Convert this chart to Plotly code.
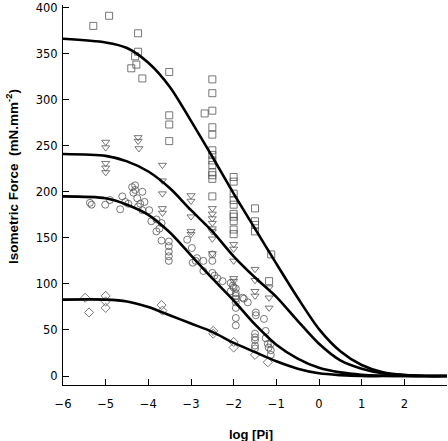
import plotly.graph_objects as go

# ---------------- data ----------------
sq_x = [-5.29, -4.92, -4.24, -4.24, -4.31, -4.28, -4.40, -4.14,
        -3.51, -3.51, -3.51, -3.51,
        -2.5, -2.5, -2.5, -2.68, -2.5, -2.5, -2.5, -2.5, -2.5, -2.5, -2.5, -2.5, -2.5, -2.5,
        -2.0, -2.0, -2.0, -2.0, -2.0, -2.0, -2.0, -2.0, -2.0, -2.0,
        -1.5, -1.5, -1.5, -1.5,
        -1.12, -1.17]
sq_y = [380, 391, 372, 352, 347, 338, 334, 323,
        330, 283, 273, 255,
        322, 307, 288, 285, 270, 262, 245, 240, 234, 229, 221, 218, 214, 195,
        216, 211, 198, 191, 186, 176, 173, 168, 159, 154,
        182, 168, 164, 157,
        132, 103]

tri_x = [-5.0, -5.0, -5.0, -5.0, -5.0,
         -4.24, -4.24, -4.22,
         -3.67, -3.67, -3.67, -3.67, -3.67,
         -3.0, -3.0, -3.0, -3.0, -3.0,
         -2.5, -2.5, -2.5, -2.5, -2.5, -2.5, -2.5, -2.5,
         -2.0, -2.0, -2.0, -2.0, -2.0,
         -1.5, -1.5, -1.5, -1.5,
         -1.17, -1.17, -1.17]
tri_y = [254, 248, 231, 226, 221,
         259, 255, 247,
         229, 212, 198, 182, 177,
         196, 190, 173, 157, 154,
         182, 176, 171, 166, 160, 157, 149, 133,
         143, 138, 125, 106, 103,
         116, 104, 92, 87,
         96, 85, 74]

cir_x = [-5.37, -5.33, -5.01, -4.90, -4.66, -4.61, -4.54, -4.47, -4.38, -4.31, -4.31, -4.35,
         -4.26, -4.14, -4.19, -4.24, -4.09, -3.98, -4.14, -3.93, -3.81, -3.81, -3.74, -3.69, -3.69,
         -3.52, -3.52, -3.52, -3.52, -3.52,
         -3.09, -2.98, -2.96, -2.86, -2.89, -2.71, -2.5, -2.5, -2.71, -2.5, -2.45, -2.38, -2.26,
         -2.07, -2.02, -2.0, -2.07,
         -1.95, -1.95, -1.95, -1.95, -1.95, -1.95, -1.95, -1.95,
         -1.79, -1.76, -1.67, -1.48, -1.48, -1.29,
         -1.5, -1.5, -1.5, -1.5, -1.5,
         -1.25, -1.25, -1.2, -1.13, -1.18, -1.13, -1.13]
cir_y = [188, 186, 186, 191, 181, 195, 189, 187, 205, 207, 202, 199,
         193, 200, 187, 184, 189, 180, 180, 168, 170, 157, 160, 166, 147,
         146, 141, 135, 130, 125,
         148, 139, 123, 128, 125, 125, 132, 125, 114, 112, 109, 106, 103,
         101, 98, 96, 92,
         95, 90, 87, 84, 80, 74, 63, 55,
         85, 84, 80, 69, 66, 62,
         46, 42, 39, 33, 30,
         49, 41, 35, 35, 31, 28, 23]

dia_x = [-5.48, -5.39, -5.0, -5.0, -5.0, -3.69, -3.67, -2.48, -2.48, -2.0, -2.0, -1.5, -1.2]
dia_y = [85, 69, 87, 81, 74, 77, 71, 49, 46, 37, 31, 23, 15]

curve_x = [-6, -5, -4.5, -4, -3.5, -3, -2.5, -2, -1.5, -1, -0.5, 0, 0.5, 1, 1.5, 2, 2.5, 3]
curve1_y = [366, 362, 356, 340, 314, 277, 238, 198, 160, 122, 85, 51, 27, 12, 4, 1, 0, 0]
curve2_y = [241, 239, 233, 222, 204, 180, 157, 130, 107, 86, 60, 35, 17, 8, 3, 1, 0, 0]
curve3_y = [195, 193, 186, 175, 156, 131, 106, 82, 56, 34, 19, 9, 4, 1.5, 0.5, 0, 0, 0]
curve4_y = [83, 83, 81, 75, 66, 57, 48, 36, 26, 16, 8, 3, 1, 0, 0, 0, 0, 0]

x_ticks = [-6, -5, -4, -3, -2, -1, 0, 1, 2]
y_ticks = [0, 50, 100, 150, 200, 250, 300, 350, 400]

# ---------------- figure ----------------
fig = go.Figure()

mk_col = "#555555"
for xs, ys, sym in [(sq_x, sq_y, "square-open"), (tri_x, tri_y, "triangle-down-open"),
                    (cir_x, cir_y, "circle-open"), (dia_x, dia_y, "diamond-open")]:
    fig.add_trace(go.Scatter(x=xs, y=ys, mode="markers",
                             marker=dict(symbol=sym, size=7, color=mk_col,
                                         line=dict(width=0.8, color=mk_col)),
                             showlegend=False, cliponaxis=False))

for cy in [curve1_y, curve2_y, curve3_y, curve4_y]:
    fig.add_trace(go.Scatter(x=curve_x, y=cy, mode="lines",
                             line=dict(color="black", width=2.6, shape="spline", smoothing=0.8),
                             showlegend=False))

font_fam = "DejaVu Sans, Liberation Sans, Arial, sans-serif"
fig.update_layout(
    width=448, height=441,
    margin=dict(l=63, r=1, t=2, b=56),
    paper_bgcolor="white", plot_bgcolor="white",
    font=dict(family=font_fam, color="black", size=11),
    xaxis=dict(range=[-6, 3], tickvals=x_ticks, ticks="inside", ticklen=6,
               tickcolor="black", showline=True, linecolor="black", linewidth=1,
               showgrid=False, zeroline=False, ticklabelstandoff=8,
               tickfont=dict(size=11.5)),
    yaxis=dict(range=[-9.7, 402.7], tickvals=y_ticks, ticks="inside", ticklen=6,
               tickcolor="black", showline=True, linecolor="black", linewidth=1,
               showgrid=False, zeroline=False, ticklabelstandoff=2,
               ticklabeloverflow="allow", tickfont=dict(size=11.5)),
    annotations=[
        dict(text="<b>log [Pi]</b>", xref="paper", yref="paper", x=0.49, y=-0.13,
             showarrow=False, font=dict(family="Liberation Sans, Arial", size=13),
             xanchor="center", yanchor="middle"),
        dict(text="<b>Isometric Force  (mN.mm<sup>-2</sup>)</b>", xref="paper", yref="paper",
             x=-0.133, y=0.55, textangle=-90, showarrow=False,
             font=dict(family="Liberation Sans, Arial", size=13.5),
             xanchor="center", yanchor="middle"),
    ],
)

fig.write_html("out.html", config={"displayModeBar": False},
               post_script="document.body.style.margin='0';document.body.style.overflow='hidden';")
